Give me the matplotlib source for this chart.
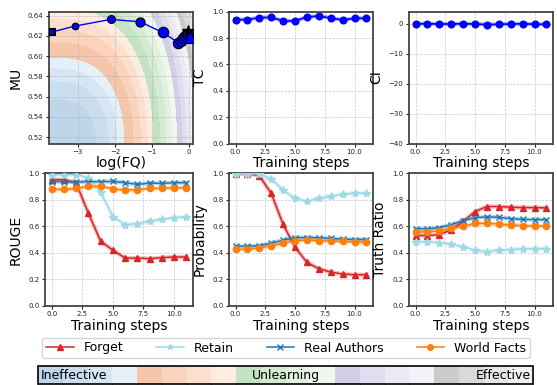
import numpy as np
import matplotlib
matplotlib.use("Agg")
import matplotlib.pyplot as plt
from matplotlib.colors import ListedColormap, BoundaryNorm
from matplotlib.cm import ScalarMappable
from matplotlib.lines import Line2D

# ---- data ----
steps = np.arange(12)

tc = [0.94, 0.94, 0.955, 0.957, 0.93, 0.93, 0.96, 0.967, 0.952, 0.937, 0.95, 0.95]
ci = [0.0, 0.0, -0.1, -0.1, 0.0, -0.1, -0.3, -0.2, -0.1, 0.0, -0.2, -0.2]

rouge_forget = [0.952, 0.952, 0.926, 0.698, 0.487, 0.419, 0.36, 0.36, 0.355, 0.363, 0.368, 0.368]
rouge_retain = [0.99, 0.99, 0.99, 0.967, 0.855, 0.673, 0.612, 0.62, 0.637, 0.652, 0.665, 0.67]
rouge_real = [0.937, 0.937, 0.934, 0.937, 0.937, 0.939, 0.929, 0.916, 0.926, 0.924, 0.929, 0.929]
rouge_world = [0.878, 0.878, 0.886, 0.901, 0.901, 0.883, 0.873, 0.876, 0.886, 0.886, 0.891, 0.891]

prob_forget = [0.997, 0.997, 0.982, 0.848, 0.614, 0.442, 0.327, 0.279, 0.254, 0.239, 0.234, 0.234]
prob_retain = [0.997, 0.997, 0.995, 0.957, 0.873, 0.81, 0.789, 0.81, 0.827, 0.84, 0.85, 0.85]
prob_real = [0.449, 0.449, 0.454, 0.472, 0.495, 0.513, 0.515, 0.513, 0.508, 0.503, 0.5, 0.5]
prob_world = [0.426, 0.426, 0.437, 0.452, 0.472, 0.492, 0.495, 0.492, 0.487, 0.485, 0.482, 0.48]

tr_forget = [0.53, 0.53, 0.536, 0.574, 0.637, 0.711, 0.749, 0.749, 0.744, 0.741, 0.741, 0.739]
tr_retain = [0.482, 0.482, 0.477, 0.464, 0.444, 0.419, 0.409, 0.419, 0.424, 0.429, 0.431, 0.431]
tr_real = [0.581, 0.581, 0.589, 0.612, 0.642, 0.665, 0.67, 0.668, 0.657, 0.652, 0.65, 0.65]
tr_world = [0.558, 0.558, 0.566, 0.584, 0.599, 0.622, 0.622, 0.617, 0.609, 0.604, 0.601, 0.601]

log_fq = [-3.69, -3.08, -2.11, -1.32, -0.71, -0.29, -0.22, -0.15, -0.10, -0.06, -0.03, 0.03]
mu = [0.624, 0.6298, 0.6364, 0.634, 0.6235, 0.6135, 0.6155, 0.618, 0.620, 0.6215, 0.622, 0.6185]
ref_log_fq, ref_mu = -0.02, 0.625

series_names = ['Forget', 'Retain', 'Real Authors', 'World Facts']
series_colors = ['#d62728', '#9edae5', '#1f77b4', '#ff7f0e']
series_markers = ['^', '*', 'x', 'o']

band_colors = [
    '#bed5ea', '#cadef0', '#d7e6f4', '#e6f0f9',   # blues
    '#f6c6ab', '#f9d3bc', '#fcdfcd', '#fdece0',   # oranges
    '#c4e2c4', '#d4ebd2', '#e3f2e0', '#eef8ec',   # greens
    '#d2d0e6', '#e0dfef', '#eae9f4', '#f3f2f8',   # purples
    '#cbcbcb', '#d9d9d9', '#e6e6e6', '#f1f1f1',   # greys
]
band_edges = [0.0, 0.146, 0.385, 0.71, 1.06, 1.40]

XLIM = (-3.78, 0.11)
YLIM = (0.5137, 0.644)

plt.rcParams['font.family'] = 'DejaVu Sans'


def effect_score(x, y):
    u = (x - XLIM[0]) / (XLIM[1] - XLIM[0])
    v = (y - YLIM[0]) / (YLIM[1] - YLIM[0])
    return u ** 3 + 0.36 * np.clip(v, 0, None) ** 2.14


def style_axis(ax):
    ax.grid(True, linestyle='--', linewidth=0.5, color='#b0b0b0', alpha=0.7)
    for sp in ax.spines.values():
        sp.set_color('#444444')
        sp.set_linewidth(1.3)
    ax.tick_params(labelsize=5, length=2.5, width=0.8, pad=1.5, colors='#222222')


def plot_metric(ax, values):
    for vals, c, m in zip(values, series_colors, series_markers):
        ax.plot(steps, vals, '-', color=c, lw=3, alpha=0.3, zorder=2)
        ms = 6 if m == '*' else 4.5
        ax.plot(steps, vals, '-', marker=m, color=c, lw=1.1, ms=ms, zorder=3)
    ax.set_ylim(0, 1.0)
    ax.set_yticks([0, 0.2, 0.4, 0.6, 0.8, 1.0])
    ax.set_xticks([0, 2.5, 5, 7.5, 10])
    ax.set_xlabel('Training steps', fontsize=10, labelpad=1)


fig = plt.figure(figsize=(5.57, 3.85), dpi=100)
W, H = 557.0, 385.0


def px_axes(x0, x1, y0, y1):
    return fig.add_axes([x0 / W, 1 - y1 / H, (x1 - x0) / W, (y1 - y0) / H])


# ---- panel 1: MU vs log(FQ) ----
ax1 = px_axes(49, 193, 11.7, 143.5)
levels = []
for lo, hi in zip(band_edges[:-1], band_edges[1:]):
    levels.extend(np.linspace(lo, hi, 5)[:-1])
levels.append(band_edges[-1])
gx = np.linspace(XLIM[0], XLIM[1], 300)
gy = np.linspace(YLIM[0], YLIM[1], 300)
GX, GY = np.meshgrid(gx, gy)
ax1.contourf(GX, GY, effect_score(GX, GY), levels=levels, colors=band_colors, zorder=0)
ax1.plot(log_fq, mu, '-', color='blue', lw=1.0, zorder=3)
for i in range(1, len(log_fq) - 1):
    ms = min(4.8 + 0.9 * (i - 1), 7.5)
    ax1.plot(log_fq[i], mu[i], 'o', color='blue', mec='black', mew=0.8, ms=ms, zorder=4)
ax1.plot(log_fq[0], mu[0], 's', color='blue', mec='black', mew=1.5, ms=5, zorder=5)
ax1.plot(ref_log_fq, ref_mu, '*', color='black', ms=8.5, zorder=5)
ax1.plot(log_fq[-1], mu[-1], '^', color='blue', mec='black', mew=0.8, ms=8, zorder=6)
ax1.set_xlim(XLIM)
ax1.set_ylim(YLIM)
ax1.set_xticks([-3, -2, -1, 0])
ax1.set_yticks([0.52, 0.54, 0.56, 0.58, 0.60, 0.62, 0.64])
ax1.set_xlabel('log(FQ)', fontsize=10, labelpad=1)
ax1.set_ylabel('MU', fontsize=10)
style_axis(ax1)
ax1.set_axisbelow(False)
ax1.grid(True, linestyle='--', linewidth=0.5, color='#a0a0a0', alpha=0.6, zorder=1)

# ---- panel 2: TC ----
ax2 = px_axes(229, 373, 11.7, 143.5)
ax2.plot(steps, tc, '-', color='blue', lw=3, alpha=0.3)
ax2.plot(steps, tc, 'o-', color='blue', lw=1.2, ms=4.8)
ax2.set_ylim(0, 1.0)
ax2.set_xticks([0, 2.5, 5, 7.5, 10])
ax2.set_xlabel('Training steps', fontsize=10, labelpad=1)
ax2.set_ylabel('TC', fontsize=10)
style_axis(ax2)

# ---- panel 3: CI ----
ax3 = px_axes(409, 553, 11.7, 143.5)
ax3.plot(steps, ci, '-', color='blue', lw=3, alpha=0.3)
ax3.plot(steps, ci, 'o-', color='blue', lw=1.2, ms=4.8)
ax3.set_ylim(-40, 4)
ax3.set_yticks([-40, -30, -20, -10, 0])
ax3.set_xticks([0, 2.5, 5, 7.5, 10])
ax3.set_xlabel('Training steps', fontsize=10, labelpad=1)
ax3.set_ylabel('CI', fontsize=10)
style_axis(ax3)

# ---- bottom row ----
ax4 = px_axes(45, 193, 173.3, 305.7)
plot_metric(ax4, [rouge_forget, rouge_retain, rouge_real, rouge_world])
ax4.set_ylabel('ROUGE', fontsize=10)
style_axis(ax4)

ax5 = px_axes(229, 373, 173.3, 305.7)
plot_metric(ax5, [prob_forget, prob_retain, prob_real, prob_world])
ax5.set_ylabel('Probability', fontsize=10)
style_axis(ax5)

ax6 = px_axes(409, 553, 173.3, 305.7)
plot_metric(ax6, [tr_forget, tr_retain, tr_real, tr_world])
ax6.set_ylabel('Truth Ratio', fontsize=10)
style_axis(ax6)

# ---- legend ----
handles = [Line2D([0], [0], color=c, marker=m, ms=4, lw=1.1)
           for c, m in zip(series_colors, series_markers)]
fig.legend(handles, series_names, loc='center', ncol=4, mode='expand',
           bbox_to_anchor=(36 / W, 1 - 360 / H, 500 / W, 24 / H),
           fontsize=9, handlelength=2.2, borderpad=0.3, frameon=True)

# ---- colour bar ----
cax = px_axes(38, 533, 366, 384)
cmap = ListedColormap(band_colors)
norm = BoundaryNorm(np.arange(21), cmap.N)
cb = fig.colorbar(ScalarMappable(norm=norm, cmap=cmap), cax=cax, orientation='horizontal')
cb.set_ticks([])
cb.outline.set_linewidth(1.2)
cax.text(0.005, 0.45, 'Ineffective', transform=cax.transAxes, ha='left', va='center', fontsize=9)
cax.text(0.5, 0.45, 'Unlearning', transform=cax.transAxes, ha='center', va='center', fontsize=9)
cax.text(0.995, 0.45, 'Effective', transform=cax.transAxes, ha='right', va='center', fontsize=9)

fig.savefig('out.png', dpi=100)
